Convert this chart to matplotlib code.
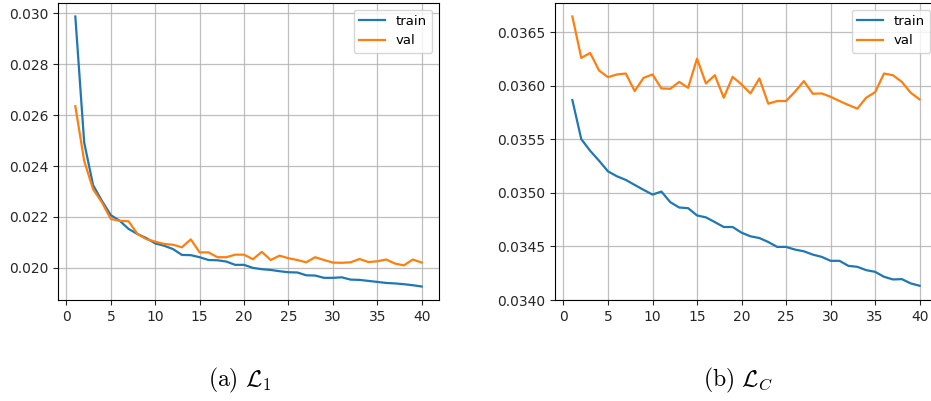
import matplotlib
matplotlib.use("Agg")
import matplotlib.pyplot as plt

plt.rcParams['mathtext.fontset'] = 'cm'

epochs = list(range(1, 41))

l1_train = [0.02987, 0.02492, 0.02325, 0.02263, 0.02207, 0.02185, 0.02153, 0.02133, 0.02117, 0.02096,
            0.02087, 0.02074, 0.02051, 0.02050, 0.02042, 0.02031, 0.02030, 0.02025, 0.02012, 0.02012,
            0.02000, 0.01995, 0.01992, 0.01987, 0.01983, 0.01982, 0.01971, 0.01970, 0.01961, 0.01961,
            0.01963, 0.01954, 0.01953, 0.01949, 0.01945, 0.01941, 0.01939, 0.01936, 0.01932, 0.01927]
l1_val = [0.02635, 0.02420, 0.02309, 0.02257, 0.02192, 0.02185, 0.02183, 0.02133, 0.02113, 0.02103,
          0.02094, 0.02091, 0.02081, 0.02112, 0.02061, 0.02061, 0.02042, 0.02042, 0.02052, 0.02052,
          0.02034, 0.02063, 0.02031, 0.02048, 0.02038, 0.02031, 0.02022, 0.02042, 0.02031, 0.02021,
          0.02020, 0.02022, 0.02035, 0.02023, 0.02026, 0.02033, 0.02017, 0.02010, 0.02033, 0.02021]

lc_train = [0.035868, 0.035503, 0.035394, 0.035301, 0.035202, 0.035156, 0.035122, 0.035075, 0.035029, 0.034985,
            0.035013, 0.034914, 0.034864, 0.034858, 0.034790, 0.034772, 0.034728, 0.034682, 0.034682, 0.034629,
            0.034595, 0.034579, 0.034542, 0.034496, 0.034496, 0.034471, 0.034455, 0.034424, 0.034403, 0.034366,
            0.034366, 0.034319, 0.034310, 0.034279, 0.034263, 0.034217, 0.034192, 0.034195, 0.034155, 0.034133]
lc_val = [0.036649, 0.036262, 0.036308, 0.036144, 0.036082, 0.036107, 0.036116, 0.035952, 0.036076, 0.036107,
          0.035977, 0.035973, 0.036038, 0.035983, 0.036255, 0.036023, 0.036100, 0.035890, 0.036085, 0.036014,
          0.035930, 0.036070, 0.035834, 0.035859, 0.035859, 0.035946, 0.036045, 0.035927, 0.035930, 0.035899,
          0.035859, 0.035822, 0.035788, 0.035890, 0.035942, 0.036116, 0.036100, 0.036038, 0.035936, 0.035874]

captions = [r"$\mathrm{(a)}\ \mathcal{L}_1$", r"$\mathrm{(b)}\ \mathcal{L}_C$"]
series_labels = ["train", "val"]

W, H = 931, 401
fig = plt.figure(figsize=(W / 100, H / 100), dpi=100)

ax1 = fig.add_axes([58 / W, (H - 300) / H, 381 / W, 297 / H])
ax2 = fig.add_axes([555 / W, (H - 300) / H, 382 / W, 297 / H])

for ax, tr, va in [(ax1, l1_train, l1_val), (ax2, lc_train, lc_val)]:
    ax.plot(epochs, tr, color='#1f77b4', lw=1.6, label=series_labels[0])
    ax.plot(epochs, va, color='#ff7f0e', lw=1.6, label=series_labels[1])
    ax.grid(True, color='#b0b0b0', lw=0.9, alpha=0.8)
    ax.set_xticks([0, 5, 10, 15, 20, 25, 30, 35, 40])
    ax.tick_params(labelsize=10, colors='#262626', labelcolor='#262626')
    ax.legend(loc='upper right', fontsize=9.5)

ax1.set_yticks([0.020, 0.022, 0.024, 0.026, 0.028, 0.030])
ax1.set_yticklabels(["0.020", "0.022", "0.024", "0.026", "0.028", "0.030"])
ax2.set_yticks([0.0340, 0.0345, 0.0350, 0.0355, 0.0360, 0.0365])
ax2.set_yticklabels(["0.0340", "0.0345", "0.0350", "0.0355", "0.0360", "0.0365"])

fig.text(240 / W, 1 - 380 / H, captions[0], ha='center', va='center', fontsize=17)
fig.text(738 / W, 1 - 380 / H, captions[1], ha='center', va='center', fontsize=17)

fig.savefig("out.png", dpi=100)
